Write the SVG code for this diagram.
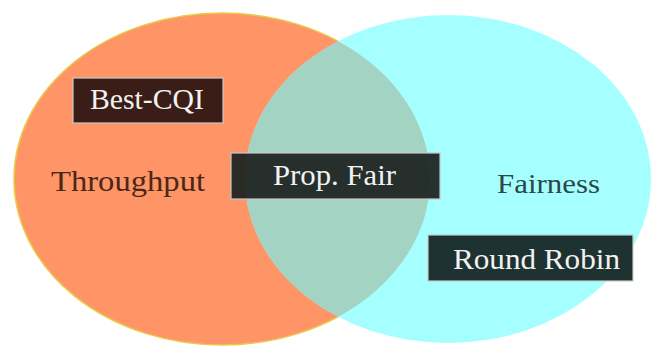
<svg xmlns="http://www.w3.org/2000/svg" width="651" height="347" viewBox="0 0 651 347">
<style>
.lbl{font-family:"Liberation Serif","DejaVu Serif",serif;}
.box text{fill:#F2F2F2;font-size:29px;}
.box rect{stroke:#C8C8C8;stroke-width:1.2;}
</style>
<defs>
<clipPath id="leftClip"><ellipse cx="222" cy="179" rx="208" ry="166"/></clipPath>
</defs>
<rect width="651" height="347" fill="#FFFFFF"/>
<g id="throughput-set">
<ellipse cx="222" cy="179" rx="208" ry="166" fill="#FF9466" stroke="#E9CB4A" stroke-width="1.5"/>
</g>
<g id="fairness-set">
<ellipse cx="448" cy="179" rx="203" ry="164" fill="#A6FFFF"/>
<ellipse cx="448" cy="179" rx="203" ry="164" fill="#A3D3C3" clip-path="url(#leftClip)"/>
</g>
<g id="throughput-label"><text class="lbl" x="51" y="191" font-size="30" fill="#4A2818" textLength="154" lengthAdjust="spacingAndGlyphs">Throughput</text></g>
<g id="fairness-label"><text class="lbl" x="497" y="193" font-size="28" fill="#2C4848" textLength="103" lengthAdjust="spacingAndGlyphs">Fairness</text></g>
<g id="best-cqi" class="box">
<rect x="73" y="78" width="150" height="45" fill="#3A1D16"/>
<text class="lbl" x="90" y="109" textLength="114" lengthAdjust="spacingAndGlyphs">Best-CQI</text>
</g>
<g id="prop-fair" class="box">
<rect x="231" y="153" width="209" height="46" fill="#1C2220" fill-opacity="0.93"/>
<text class="lbl" x="273" y="185" textLength="123" lengthAdjust="spacingAndGlyphs">Prop. Fair</text>
</g>
<g id="round-robin" class="box">
<rect x="428" y="235" width="205" height="46" fill="#1F3232"/>
<text class="lbl" x="453" y="269" textLength="167" lengthAdjust="spacingAndGlyphs">Round Robin</text>
</g>
<g id="connectors"></g>
</svg>
